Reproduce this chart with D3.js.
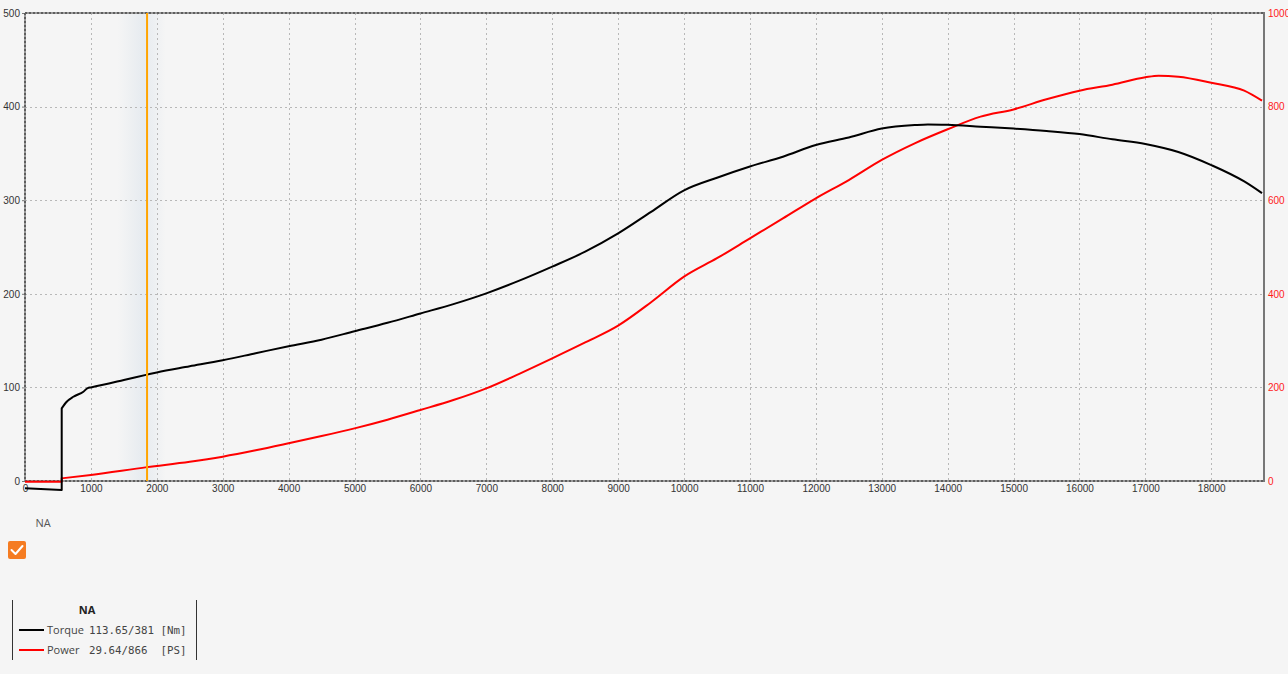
<!DOCTYPE html>
<html><head><meta charset="utf-8">
<script src="https://cdn.jsdelivr.net/npm/d3@7"></script>
<style>
html,body{margin:0;padding:0;background:#f5f5f5;}
svg{display:block;}
</style></head>
<body>
<svg id="c" width="1288" height="674"></svg>
<script>
// ---- data ----
const xTicks = [0,1000,2000,3000,4000,5000,6000,7000,8000,9000,10000,11000,12000,13000,14000,15000,16000,17000,18000];
const torqueTicks = [0,100,200,300,400,500];
const powerTicks = [0,200,400,600,800,1000];

const torqueRpm = [0,557,557,633,734,886,952,1000,1500,1852,2000,2500,3000,3500,4000,4500,5000,5500,6000,6500,7000,7500,8000,8500,9000,9500,10000,10500,11000,11500,12000,12500,13000,13500,13700,14000,14500,15000,15500,16000,16500,17000,17500,18000,18500,18770];
const torque = [-7.8,-9.6,77.6,84.7,90,95.4,99.3,100,107.9,113.65,116,122.5,129,136.5,144,151,160,169,179,189,200.5,214,229,245,264.5,287.5,310.5,324,336,346.5,359,367,376.5,380.3,381,380.5,378.5,376.5,374,370.7,365,360,351.5,337.5,320,307.5];

const powerRpm = [0,557,557,1000,1852,2500,3000,3500,4000,4500,5000,5500,6000,6500,7000,7500,8000,8500,9000,9500,10000,10500,11000,11500,12000,12500,13000,13500,14000,14500,15000,15500,16000,16500,17000,17200,17500,18000,18500,18770];
const power = [-1.5,-1.5,5.7,13,29.64,41,52,65.5,80.5,96,112.5,131,151.7,173,198,229,262,296,332,382,436.6,476,518.5,561,604,643,686,721.5,751.5,778.5,794,815.6,834,846.8,862.6,866,864,851,834,812.6];

const cursorRpm = 1852;
const runName = "NA";
const legendRows = [
  {label:"Torque", value:"113.65/381 [Nm]", color:"#000"},
  {label:"Power",  value:"29.64/866  [PS]", color:"#ff0000"}
];

// ---- layout ----
const L = 25, R = 1264, T = 13, B = 481;
const svg = d3.select("#c");
const x = d3.scaleLinear().domain([0,18800]).range([L,R]);
const yT = d3.scaleLinear().domain([0,500]).range([B,T]);
const yP = d3.scaleLinear().domain([0,1000]).range([B,T]);

// cursor shadow band
const defs = svg.append("defs");
const g = defs.append("linearGradient").attr("id","band").attr("x1","0").attr("x2","1").attr("y1","0").attr("y2","0");
g.append("stop").attr("offset","0%").attr("stop-color","#e2e8ee").attr("stop-opacity",0);
g.append("stop").attr("offset","55%").attr("stop-color","#e2e8ee").attr("stop-opacity",0.8);
g.append("stop").attr("offset","100%").attr("stop-color","#e2e8ee").attr("stop-opacity",0);
svg.append("rect").attr("x",x(cursorRpm-450)).attr("y",T).attr("width",x(cursorRpm+280)-x(cursorRpm-450)).attr("height",B-T).attr("fill","url(#band)");

// grid
const grid = svg.append("g").attr("stroke","#b8b8b8").attr("stroke-width",1).attr("stroke-dasharray","2,3");
xTicks.filter(d=>d>0).forEach(d=>{
  grid.append("line").attr("x1",Math.round(x(d))+0.5).attr("x2",Math.round(x(d))+0.5).attr("y1",T).attr("y2",B);
});
torqueTicks.filter(d=>d>0 && d<500).forEach(d=>{
  grid.append("line").attr("x1",L).attr("x2",R).attr("y1",Math.round(yT(d))+0.5).attr("y2",Math.round(yT(d))+0.5);
});

// axes with d3
const fmt = d3.format("d");
const axL = svg.append("g").attr("transform",`translate(${L},0)`).call(d3.axisLeft(yT).tickValues(torqueTicks).tickFormat(fmt).tickSize(3).tickPadding(2));
const axR = svg.append("g").attr("transform",`translate(${R},0)`).call(d3.axisRight(yP).tickValues(powerTicks).tickFormat(fmt).tickSize(0).tickPadding(4));
const axB = svg.append("g").attr("transform",`translate(0,${B})`).call(d3.axisBottom(x).tickValues(xTicks).tickFormat(fmt).tickSize(0).tickPadding(4));
[axL,axR,axB].forEach(a=>{
  a.select(".domain").remove();
  a.selectAll("text").attr("font-family","'Liberation Sans',Arial,sans-serif").attr("font-size",10).attr("fill","#333");
  a.selectAll(".tick line").attr("stroke","#777");
});
axR.selectAll("text").attr("fill","#ff1a1a");

// frame
const frame = svg.append("g");
[[L,T,R,T],[L,T,L,B],[L,B,R,B]].forEach(s=>{
  frame.append("line").attr("x1",s[0]).attr("y1",s[1]).attr("x2",s[2]).attr("y2",s[3]).attr("stroke","#9a9a9a").attr("stroke-width",2);
  frame.append("line").attr("x1",s[0]).attr("y1",s[1]).attr("x2",s[2]).attr("y2",s[3]).attr("stroke","#5e5e5e").attr("stroke-width",2).attr("stroke-dasharray","2,2");
});
frame.append("line").attr("x1",R).attr("y1",T-1).attr("x2",R).attr("y2",B+1).attr("stroke","#777").attr("stroke-width",2);

// curves
function buildPath(rpms, vals, ys){
  const pts = rpms.map((r,i)=>[x(r), ys(vals[i])]);
  let j = 1; while (j<rpms.length && rpms[j]!==rpms[j-1]) j++;
  const pre = pts.slice(0,j);
  const post = pts.slice(j);
  const lin = d3.line().curve(d3.curveLinear);
  const mono = d3.line().curve(d3.curveMonotoneX);
  return lin(pre) + mono(post).replace(/^M/,"L");
}
svg.append("path").attr("d",buildPath(powerRpm,power,yP)).attr("fill","none").attr("stroke","#ff0000").attr("stroke-width",2).attr("stroke-linejoin","round");
svg.append("path").attr("d",buildPath(torqueRpm,torque,yT)).attr("fill","none").attr("stroke","#000").attr("stroke-width",2).attr("stroke-linejoin","round");

// cursor line
svg.append("line").attr("x1",x(cursorRpm)).attr("x2",x(cursorRpm)).attr("y1",T).attr("y2",B).attr("stroke","#ffa500").attr("stroke-width",2);

// run label + checkbox
svg.append("text").attr("x",43).attr("y",527).attr("text-anchor","middle").attr("font-family","'Open Sans',sans-serif").attr("font-size",11).attr("fill","#555").text(runName);
svg.append("rect").attr("x",8).attr("y",541).attr("width",18).attr("height",18).attr("rx",2).attr("fill","#f57c22");
svg.append("path").attr("d","M11.5,550 L15.5,554 L22.5,546").attr("fill","none").attr("stroke","#fff").attr("stroke-width",2).attr("stroke-linecap","round").attr("stroke-linejoin","round");

// legend box
const lg = svg.append("g");
lg.append("line").attr("x1",12.5).attr("x2",12.5).attr("y1",600).attr("y2",660).attr("stroke","#333").attr("stroke-width",1);
lg.append("line").attr("x1",196.5).attr("x2",196.5).attr("y1",600).attr("y2",660).attr("stroke","#333").attr("stroke-width",1);
lg.append("text").attr("x",87).attr("y",614).attr("text-anchor","middle").attr("font-family","'Open Sans',sans-serif").attr("font-weight","bold").attr("font-size",11).attr("fill","#222").text(runName);
legendRows.forEach((r,i)=>{
  const yy = 630 + i*20;
  lg.append("line").attr("x1",19).attr("x2",44).attr("y1",yy).attr("y2",yy).attr("stroke",r.color).attr("stroke-width",2);
  lg.append("text").attr("x",47).attr("y",yy+4).attr("font-family","'Open Sans',sans-serif").attr("font-size",11).attr("fill","#444").text(r.label);
  lg.append("text").attr("x",89).attr("y",yy+4).attr("font-family","'DejaVu Sans Mono',monospace").attr("font-size",10.8).attr("fill","#444").attr("xml:space","preserve").style("white-space","pre").text(r.value);
});
</script>
</body></html>
